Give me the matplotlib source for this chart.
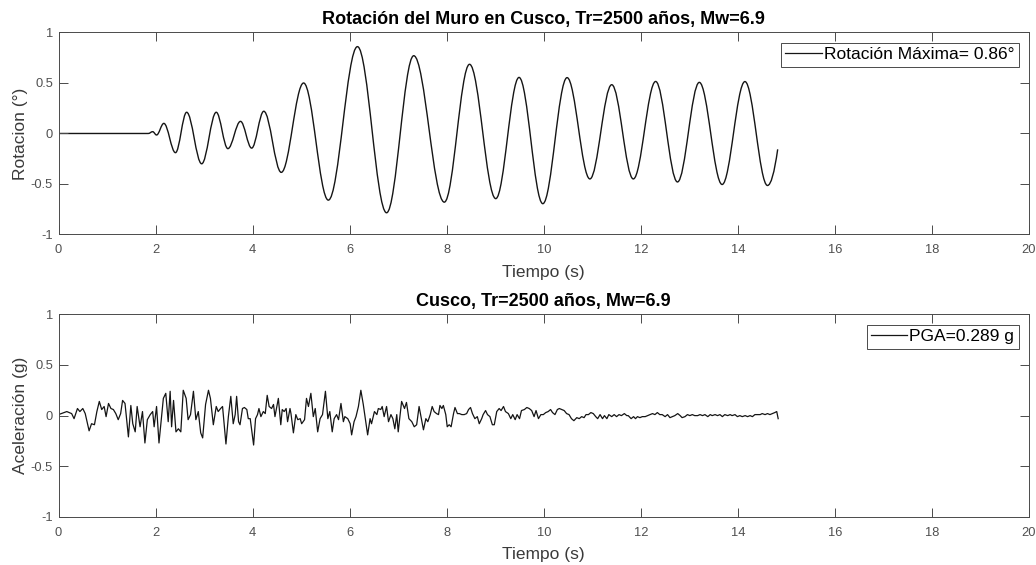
"""Rotación del muro y acelerograma, Cusco Tr=2500 años (estilo MATLAB)."""
import matplotlib
matplotlib.use("Agg")
import matplotlib.pyplot as plt
from matplotlib.path import Path
from matplotlib.patches import PathPatch
from matplotlib.ticker import FuncFormatter

plt.rcParams["font.family"] = ["Liberation Sans", "DejaVu Sans"]
plt.rcParams["axes.unicode_minus"] = False

# rotación del muro: reposo y extremos (s, grados)
rot_t = [0.0, 1.85, 1.94, 2.02, 2.17, 2.41, 2.64, 2.95, 3.25, 3.49, 3.75,
         3.98, 4.23, 4.59, 5.05, 5.56, 6.16, 6.76, 7.32, 7.95, 8.47, 9.01,
         9.49, 9.98, 10.48, 10.95, 11.40, 11.845, 12.305, 12.755, 13.205,
         13.675, 14.145, 14.61, 14.82]
rot_deg = [0.0, 0.0, 0.018, -0.015, 0.10, -0.19, 0.21, -0.30, 0.21, -0.15,
           0.12, -0.145, 0.22, -0.385, 0.50, -0.66, 0.86, -0.785, 0.77,
           -0.68, 0.685, -0.645, 0.555, -0.695, 0.553, -0.45, 0.483, -0.45,
           0.515, -0.48, 0.506, -0.505, 0.514, -0.515, -0.157]

# acelerograma (s, g)
acc_t = [0.00, 0.17, 0.27, 0.32, 0.39, 0.44, 0.50, 0.55, 0.63, 0.68, 0.74,
         0.79, 0.84, 0.89, 0.94, 0.98, 1.03, 1.08, 1.13, 1.18, 1.23, 1.28,
         1.32, 1.37, 1.44, 1.49, 1.53, 1.58, 1.62, 1.68, 1.73, 1.78, 1.83,
         1.89, 1.94, 1.97, 2.02, 2.07, 2.16, 2.21, 2.26, 2.30, 2.33, 2.37,
         2.42, 2.47, 2.52, 2.57, 2.63, 2.67, 2.72, 2.78, 2.83, 2.88, 2.93,
         2.97, 3.03, 3.09, 3.13, 3.19, 3.25, 3.29, 3.34, 3.38, 3.45, 3.50,
         3.55, 3.60, 3.64, 3.67, 3.71, 3.74, 3.79, 3.83, 3.88, 3.91, 3.95,
         3.98, 4.02, 4.06, 4.10, 4.13, 4.17, 4.22, 4.26, 4.30, 4.34, 4.39,
         4.43, 4.46, 4.53, 4.58, 4.61, 4.65, 4.69, 4.72, 4.77, 4.79, 4.84,
         4.89, 4.93, 4.98, 5.01, 5.07, 5.11, 5.15, 5.20, 5.25, 5.29, 5.34,
         5.39, 5.44, 5.50, 5.55, 5.59, 5.64, 5.68, 5.73, 5.77, 5.82, 5.87,
         5.90, 5.96, 6.01, 6.04, 6.09, 6.13, 6.18, 6.23, 6.28, 6.33, 6.37,
         6.42, 6.45, 6.51, 6.56, 6.59, 6.64, 6.67, 6.71, 6.76, 6.80, 6.85,
         6.89, 6.93, 6.97, 7.00, 7.07, 7.13, 7.17, 7.22, 7.28, 7.33, 7.38,
         7.43, 7.47, 7.52, 7.57, 7.61, 7.66, 7.70, 7.74, 7.79, 7.83, 7.86,
         7.90, 7.93, 7.98, 8.01, 8.05, 8.09, 8.14, 8.17, 8.22, 8.26, 8.31,
         8.36, 8.41, 8.45, 8.49, 8.53, 8.58, 8.63, 8.67, 8.72, 8.75, 8.80,
         8.84, 8.89, 8.94, 8.98, 9.03, 9.08, 9.12, 9.17, 9.21, 9.27, 9.32,
         9.36, 9.41, 9.45, 9.50, 9.54, 9.60, 9.65, 9.70, 9.75, 9.80, 9.84,
         9.89, 9.94, 9.99, 10.04, 10.09, 10.14, 10.18, 10.23, 10.28, 10.32,
         10.37, 10.42, 10.47, 10.52, 10.57, 10.62, 10.68, 10.73, 10.78,
         10.83, 10.87, 10.92, 10.97, 11.02, 11.07, 11.11, 11.16, 11.21,
         11.25, 11.30, 11.34, 11.40, 11.45, 11.50, 11.55, 11.60, 11.66,
         11.71, 11.74, 11.80, 11.85, 11.89, 11.93, 11.98, 12.03, 12.09,
         12.14, 12.19, 12.24, 12.29, 12.34, 12.39, 12.44, 12.50, 12.55,
         12.60, 12.65, 12.70, 12.76, 12.81, 12.85, 12.91, 12.96, 13.01,
         13.06, 13.11, 13.17, 13.22, 13.27, 13.32, 13.38, 13.43, 13.47,
         13.53, 13.58, 13.63, 13.68, 13.73, 13.79, 13.84, 13.88, 13.94,
         13.99, 14.04, 14.09, 14.15, 14.20, 14.25, 14.30, 14.35, 14.41,
         14.46, 14.50, 14.56, 14.61, 14.66, 14.71, 14.76, 14.80, 14.83]
acc_g = [0.01, 0.04, 0.02, -0.03, 0.07, 0.04, 0.07, 0.02, -0.15, -0.08,
         -0.09, 0.04, 0.14, 0.06, 0.09, -0.01, 0.12, 0.07, 0.06, 0.02, -0.04,
         0.02, 0.15, 0.12, -0.21, 0.10, -0.08, -0.16, 0.09, -0.11, 0.04,
         -0.27, -0.04, 0.01, 0.04, -0.11, 0.09, -0.27, 0.17, 0.22, -0.06,
         0.24, -0.11, 0.15, -0.16, -0.13, -0.16, 0.25, 0.17, -0.04, 0.01,
         0.24, -0.04, 0.04, -0.17, -0.22, 0.11, 0.25, 0.17, -0.09, 0.09,
         0.04, 0.07, 0.09, -0.28, -0.01, 0.19, -0.08, 0.01, 0.19, -0.06,
         -0.09, 0.07, 0.08, 0.06, -0.03, -0.03, -0.14, -0.29, -0.03, 0.01,
         0.07, -0.01, 0.04, 0.02, 0.20, 0.09, 0.07, 0.11, -0.01, 0.17, -0.09,
         0.06, 0.04, 0.07, -0.06, 0.07, 0.02, -0.17, 0.01, -0.04, -0.03,
         -0.08, -0.04, 0.17, 0.09, 0.22, -0.01, 0.07, -0.16, -0.03, 0.01,
         0.24, -0.03, 0.04, -0.16, -0.03, 0.01, -0.04, 0.12, -0.06, -0.01,
         -0.03, -0.08, -0.19, -0.06, -0.01, 0.09, 0.25, 0.11, -0.06, -0.19,
         -0.03, -0.08, 0.04, 0.01, 0.07, 0.06, 0.09, -0.01, 0.09, -0.06,
         0.01, -0.03, -0.13, 0.01, -0.16, 0.14, 0.07, 0.13, -0.03, -0.06,
         -0.11, -0.09, 0.09, -0.01, -0.14, -0.03, -0.06, 0.01, 0.09, 0.04,
         0.02, 0.01, 0.10, 0.07, 0.10, 0.01, -0.11, -0.09, -0.11, 0.02, 0.08,
         0.02, 0.02, 0.01, 0.01, 0.02, 0.06, 0.08, 0.02, -0.03, -0.01, -0.08,
         -0.03, 0.01, 0.05, 0.01, -0.01, -0.09, -0.09, 0.04, 0.07, 0.05,
         0.09, 0.04, 0.02, -0.03, 0.01, -0.04, 0.01, -0.03, 0.05, 0.06, 0.08,
         0.07, 0.05, -0.01, 0.05, -0.03, 0.01, 0.01, 0.03, 0.04, 0.06, 0.03,
         0.01, 0.06, 0.07, 0.06, 0.05, 0.02, 0.01, -0.03, -0.05, -0.02,
         -0.03, -0.01, -0.02, 0.01, 0.01, 0.03, 0.02, -0.01, -0.03, 0.01,
         -0.03, 0.00, -0.03, 0.01, -0.01, 0.01, -0.01, 0.01, 0.00, 0.02,
         0.00, 0.00, -0.03, -0.01, -0.03, -0.01, -0.02, -0.01, -0.01, 0.00,
         0.01, 0.02, 0.01, 0.03, 0.01, 0.01, -0.01, 0.01, -0.02, -0.01, 0.00,
         0.02, 0.00, -0.02, -0.01, 0.01, 0.00, 0.01, 0.00, 0.00, 0.01, 0.00,
         0.01, -0.01, 0.01, 0.00, 0.01, 0.00, 0.01, -0.01, 0.01, 0.00, 0.01,
         0.00, 0.01, -0.01, 0.00, -0.01, 0.00, -0.01, 0.00, -0.01, 0.01,
         0.01, 0.01, 0.02, 0.01, 0.02, 0.01, 0.02, 0.03, 0.04, -0.03]

x_ticks = [0, 2, 4, 6, 8, 10, 12, 14, 16, 18, 20]
y_ticks = [-1, -0.5, 0, 0.5, 1]

LINE = "#151515"
AXC = "#4a4a4a"
TXT = "#3a3a3a"
TICKTXT = "#505050"


def smooth_wave(ax, t, v, k=0.364, **kw):
    """Curva suave por los extremos (tangente horizontal en cada uno)."""
    verts = [(t[0], v[0])]
    codes = [Path.MOVETO]
    for i in range(1, len(t) - 1):
        dt = t[i] - t[i - 1]
        verts += [(t[i - 1] + k * dt, v[i - 1]), (t[i] - k * dt, v[i]), (t[i], v[i])]
        codes += [Path.CURVE4] * 3
    # último tramo: la señal termina subiendo, sin llegar a un extremo
    dt = t[-1] - t[-2]
    verts += [(t[-2] + 0.5 * dt, v[-2]), (t[-1], v[-1])]
    codes += [Path.CURVE3] * 2
    ax.add_patch(PathPatch(Path(verts, codes), fill=False, **kw))


def style(ax, title, ylabel):
    ax.set_xlim(0, 20)
    ax.set_ylim(-1, 1)
    ax.set_xticks(x_ticks)
    ax.set_yticks(y_ticks)
    ax.yaxis.set_major_formatter(FuncFormatter(lambda val, pos: f"{val:g}"))
    ax.tick_params(direction="in", length=6.5, width=0.7, color=AXC,
                   top=True, right=True, labelsize=9.3, labelcolor=TICKTXT)
    ax.tick_params(axis="x", pad=7)
    ax.tick_params(axis="y", pad=4)
    for sp in ax.spines.values():
        sp.set_color(AXC)
        sp.set_linewidth(0.7)
    ax.set_title(title, fontsize=13, fontweight="bold", pad=6)
    ax.set_xlabel("Tiempo (s)", fontsize=12.5, color=TXT, labelpad=6)
    ax.set_ylabel(ylabel, fontsize=12.5, color=TXT, labelpad=2)
    leg = ax.legend(loc="upper right", fontsize=12.5, fancybox=False,
                    framealpha=1, edgecolor=AXC, borderaxespad=0.6,
                    handlelength=2.1, handletextpad=0.12, borderpad=0.25)
    leg.get_frame().set_linewidth(0.7)


fig = plt.figure(figsize=(10.36, 5.65), dpi=100)
ax1 = fig.add_axes([0.0565, 0.585, 0.9368, 0.3575])
ax2 = fig.add_axes([0.0565, 0.085, 0.9368, 0.3588])

smooth_wave(ax1, rot_t, rot_deg, edgecolor=LINE, linewidth=1.0)
ax1.plot([], [], color=LINE, lw=0.9, label="Rotación Máxima= 0.86°")
style(ax1, "Rotación del Muro en Cusco, Tr=2500 años, Mw=6.9", "Rotacion (°)")

ax2.plot(acc_t, acc_g, color=LINE, lw=0.9, label="PGA=0.289 g")
style(ax2, "Cusco, Tr=2500 años, Mw=6.9", "Aceleración (g)")

fig.savefig("out.png", dpi=100)
